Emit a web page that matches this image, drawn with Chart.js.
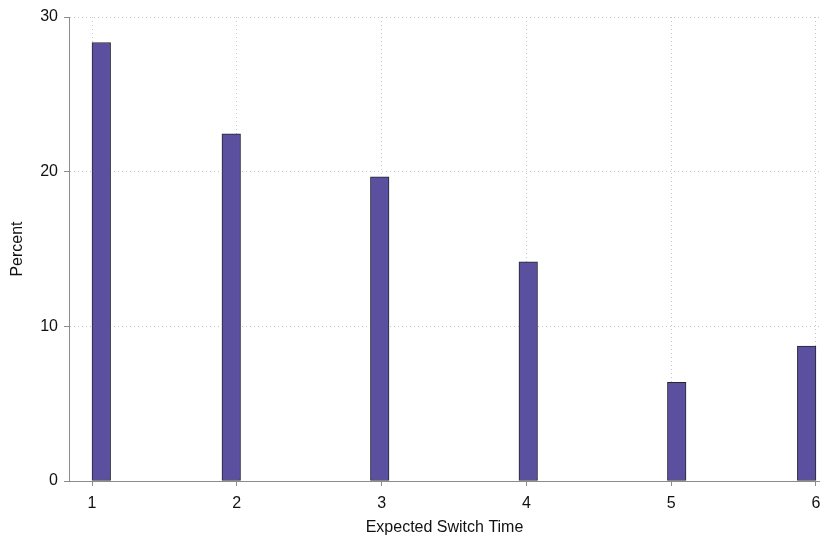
<!DOCTYPE html>
<html>
<head>
<meta charset="utf-8">
<script src="https://cdn.jsdelivr.net/npm/chart.js@4/dist/chart.umd.min.js"></script>
<style>
  html, body { margin: 0; padding: 0; background: #fff; }
  #wrap { width: 820px; height: 540px; }
</style>
</head>
<body>
<div id="wrap"><canvas id="chart"></canvas></div>
<script>
// Histogram data (39 bins between 1 and 6, only six are filled)
const binCount = 39;
const binRange = [1, 6];
const filledBins = [0, 7, 15, 23, 31, 38];
const percent = [28.35, 22.45, 19.66, 14.17, 6.38, 8.73];
const xTicks = [1, 2, 3, 4, 5, 6];
const yTicks = [0, 10, 20, 30];

// Build bin centers + values for the library
const binWidth = (binRange[1] - binRange[0]) / binCount;
const points = [];
for (let i = 0; i < binCount; i++) {
    const k = filledBins.indexOf(i);
    points.push({
        x: binRange[0] + binWidth * (i + 0.5),
        y: k >= 0 ? percent[k] : null
    });
}

const font = { family: 'Liberation Sans, Arial, sans-serif', size: 16 };
const gridColor = '#c8c8c8';
const axisColor = '#8c8c8c';

new Chart(document.getElementById('chart'), {
    type: 'bar',
    data: {
        datasets: [{
            data: points,
            backgroundColor: '#5b4f9f',
            borderColor: '#262630',
            borderWidth: 1,
            borderSkipped: false,
            barPercentage: 1,
            categoryPercentage: 1
        }]
    },
    options: {
        responsive: true,
        maintainAspectRatio: false,
        animation: false,
        layout: { padding: { top: 17, right: 0, left: 0, bottom: 0 } },
        plugins: {
            legend: { display: false },
            tooltip: { enabled: false }
        },
        scales: {
            x: {
                type: 'linear',
                offset: false,
                min: 0.841,
                max: 6.028,
                afterBuildTicks: s => { s.ticks = xTicks.map(v => ({ value: v })); },
                afterFit: s => { s.height = 59; s.paddingLeft = 0; s.paddingRight = 0; },
                grid: {
                    offset: false,
                    color: gridColor,
                    tickColor: axisColor,
                    tickLength: 5,
                    lineWidth: 1
                },
                border: { color: axisColor, width: 1, dash: [1, 3] },
                ticks: { color: '#111', font: font, padding: 8, maxRotation: 0 },
                title: {
                    display: true,
                    text: 'Expected Switch Time',
                    color: '#111',
                    font: font,
                    padding: { top: 0, bottom: 3 }
                }
            },
            y: {
                min: 0,
                max: 30,
                afterBuildTicks: s => { s.ticks = yTicks.map(v => ({ value: v })); },
                afterFit: s => { s.width = 69; },
                grid: {
                    color: gridColor,
                    tickColor: axisColor,
                    tickLength: 5,
                    lineWidth: 1
                },
                border: { color: axisColor, width: 1, dash: [1, 3] },
                ticks: { color: '#111', font: font, padding: 6 },
                title: {
                    display: true,
                    text: 'Percent',
                    color: '#111',
                    font: font,
                    padding: { top: 8, bottom: 0 }
                }
            }
        }
    }
});
</script>
</body>
</html>
